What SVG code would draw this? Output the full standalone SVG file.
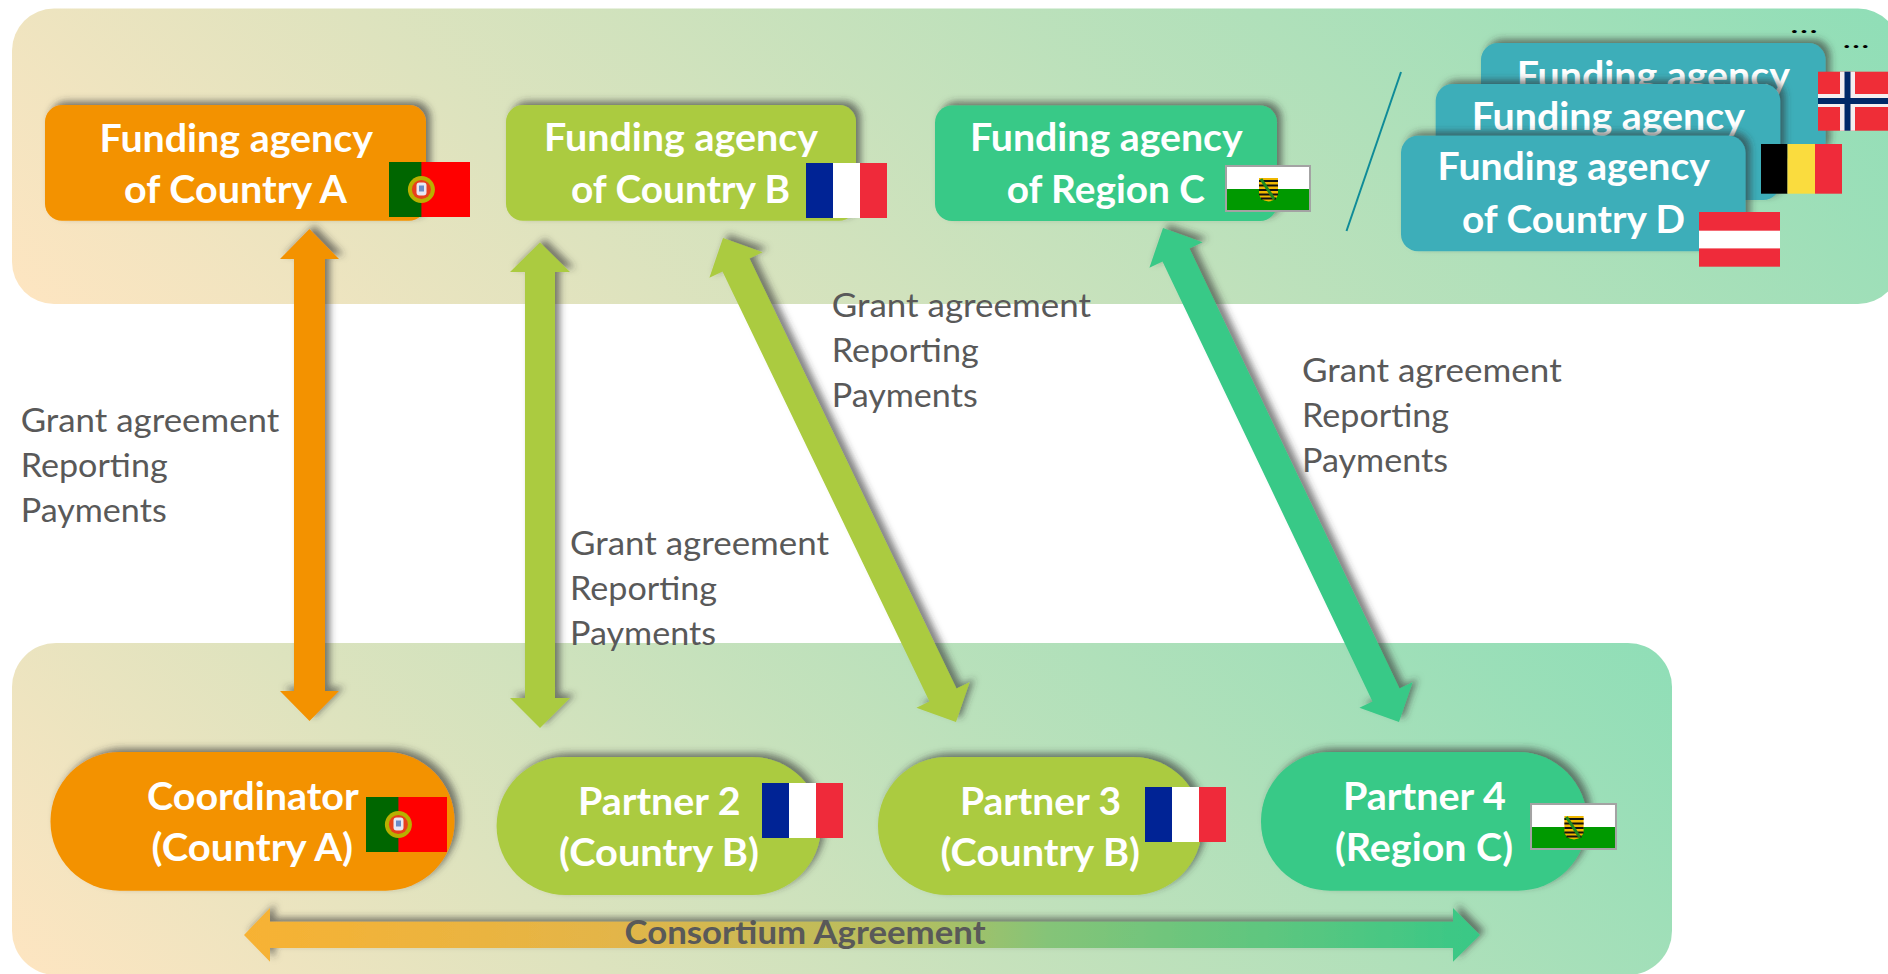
<svg xmlns="http://www.w3.org/2000/svg" xmlns:xlink="http://www.w3.org/1999/xlink" width="1888" height="974" viewBox="0 0 1888 974">
<style>
text{font-family:"Lato","Carlito","Liberation Sans",sans-serif}
.w{fill:#fff;font-weight:700;font-size:37.500px}
.l{fill:#595959;font-size:32.500px}
.c{fill:#595959;font-weight:700;font-size:32.500px}
.o{fill:#f39200}.g{fill:#abcb3f}.m{fill:#38c987}.t{fill:#3caeb9}
.s{filter:url(#sh)}
</style>
<defs>
<filter id="sh" x="-20%" y="-20%" width="140%" height="140%"><feDropShadow dx="5" dy="-4" stdDeviation="3.500" flood-color="#333" flood-opacity=".6"/></filter>
<linearGradient id="pt" gradientUnits="userSpaceOnUse" x1="12" y1="304" x2="1103" y2="-789"><stop offset="0" stop-color="#fee5c1"/><stop offset="1" stop-color="#8fdeb7"/></linearGradient>
<linearGradient id="pb" gradientUnits="userSpaceOnUse" x1="12" y1="975" x2="1007" y2="-21"><stop offset="0" stop-color="#fee5c1"/><stop offset="1" stop-color="#8fdeb7"/></linearGradient>
<linearGradient id="ca" gradientUnits="userSpaceOnUse" x1="244" y1="0" x2="1480" y2="0"><stop offset="0" stop-color="#f7b233"/><stop offset=".3" stop-color="#e3b548"/><stop offset=".55" stop-color="#b0bf62"/><stop offset=".65" stop-color="#85c478"/><stop offset="1" stop-color="#38c886"/></linearGradient>
<symbol id="fPt" viewBox="0 0 81 55" preserveAspectRatio="none"><rect width="81" height="55" fill="#f00"/><rect width="32.400" height="55" fill="#060"/><circle cx="32.400" cy="27.500" r="13.500" fill="#b8b000"/><circle cx="32.400" cy="27.500" r="9.500" fill="#e8401c"/><rect x="27.500" y="20.500" width="10" height="13" rx="3" fill="#e8e8f4"/><rect x="30" y="23.500" width="5" height="6" fill="#6a8cc8"/></symbol>
<symbol id="fFr" viewBox="0 0 81 55" preserveAspectRatio="none"><rect width="81" height="55" fill="#ef2a3a"/><rect width="54" height="55" fill="#fff"/><rect width="27" height="55" fill="#002395"/></symbol>
<symbol id="fSx" viewBox="0 0 86 47" preserveAspectRatio="none"><rect width="86" height="47" fill="#a3a3a3"/><rect x="2" y="2" width="82" height="22" fill="#fff"/><rect x="2" y="24" width="82" height="21" fill="#009900"/><path d="M34 13h19v15q0 7-9.500 8.500q-9.500-1.500-9.500-8.500z" fill="#f0b800"/><path d="M34 16h19M34 20.500h19M34 25h19M34 29.500h19M36 33.500h15" stroke="#111" stroke-width="2" fill="none"/><path d="M36 14l13 20" stroke="#1e8a1e" stroke-width="3" fill="none"/></symbol>
</defs>

<g id="panels">
<rect id="panel-funders" x="12" y="8.500" width="1888" height="295.500" rx="42" fill="url(#pt)"/>
<rect id="panel-consortium" x="12" y="643" width="1660" height="332" rx="44" fill="url(#pb)"/>
</g>

<g id="connectors">
<polygon class="o s" points="309.500,229 339,259 325,259 325,691 339,691 309.500,721 280,691 294,691 294,259 280,259"/>
<polygon class="g s" points="540,242.500 570,272 555,272 555,698 570,698 540,728 510,698 525,698 525,272 510,272"/>
<polygon class="g s" points="723,238 762.600,252.200 749.500,258.500 956.500,688.500 969.600,682.200 956,722 916.400,707.800 929.500,701.500 722.500,271.500 709.400,277.800"/>
<polygon class="m s" points="1163,228 1202.600,242.300 1189.500,248.500 1399.500,688.500 1412.600,682.300 1399,722 1359.400,707.700 1372.500,701.500 1162.500,261.500 1149.400,267.700"/>
<polygon class="s" fill="url(#ca)" points="244,935 270,908 270,921.700 1453,921.700 1453,908 1480,935 1453,961.700 1453,948 270,948 270,961.700"/>
<line x1="1401" y1="72" x2="1346.500" y2="231" stroke="#0f8b98" stroke-width="2"/>
</g>

<g id="labels">
<g id="label-a"><text class="l" x="20.700" y="431.700" textLength="258.600" lengthAdjust="spacingAndGlyphs">Grant agreement</text><text class="l" x="20.700" y="476.700" textLength="147" lengthAdjust="spacingAndGlyphs">Reporting</text><text class="l" x="20.700" y="521.700" textLength="146" lengthAdjust="spacingAndGlyphs">Payments</text></g>
<g id="label-b"><text class="l" x="570" y="555" textLength="259" lengthAdjust="spacingAndGlyphs">Grant agreement</text><text class="l" x="570" y="600" textLength="147" lengthAdjust="spacingAndGlyphs">Reporting</text><text class="l" x="570" y="645" textLength="146" lengthAdjust="spacingAndGlyphs">Payments</text></g>
<g id="label-b2"><text class="l" x="831.700" y="316.700" textLength="259.300" lengthAdjust="spacingAndGlyphs">Grant agreement</text><text class="l" x="831.700" y="361.700" textLength="147" lengthAdjust="spacingAndGlyphs">Reporting</text><text class="l" x="831.700" y="406.700" textLength="146" lengthAdjust="spacingAndGlyphs">Payments</text></g>
<g id="label-c"><text class="l" x="1302" y="381.700" textLength="259.700" lengthAdjust="spacingAndGlyphs">Grant agreement</text><text class="l" x="1302" y="426.700" textLength="147" lengthAdjust="spacingAndGlyphs">Reporting</text><text class="l" x="1302" y="471.700" textLength="146" lengthAdjust="spacingAndGlyphs">Payments</text></g>
<text id="label-consortium" class="c" x="624.600" y="944" textLength="361" lengthAdjust="spacingAndGlyphs">Consortium Agreement</text>
<text id="more-1" x="1790" y="32.600" font-size="24" font-family="Liberation Sans" fill="#000" textLength="28" lengthAdjust="spacingAndGlyphs">…</text>
<text id="more-2" x="1842.500" y="47.600" font-size="24" font-family="Liberation Sans" fill="#000" textLength="27" lengthAdjust="spacingAndGlyphs">…</text>
</g>

<g id="funder-a">
<rect class="o s" x="45" y="105" width="381" height="115.700" rx="17"/>
<text class="w" x="99.500" y="151.700" textLength="273.500" lengthAdjust="spacingAndGlyphs">Funding agency</text>
<text class="w" x="124" y="202.500" textLength="223" lengthAdjust="spacingAndGlyphs">of Country A</text>
<use href="#fPt" x="389" y="162" width="81" height="55"/>
</g>
<g id="funder-b">
<rect class="g s" x="506" y="105" width="350" height="115.700" rx="17"/>
<text class="w" x="544" y="151.300" textLength="274" lengthAdjust="spacingAndGlyphs">Funding agency</text>
<text class="w" x="571" y="202.700" textLength="219" lengthAdjust="spacingAndGlyphs">of Country B</text>
<use href="#fFr" x="806" y="163" width="81" height="55"/>
</g>
<g id="funder-c">
<rect class="m s" x="935" y="105.500" width="342" height="115.500" rx="17"/>
<text class="w" x="970" y="151.300" textLength="272.700" lengthAdjust="spacingAndGlyphs">Funding agency</text>
<text class="w" x="1006.700" y="203" textLength="198.300" lengthAdjust="spacingAndGlyphs">of Region C</text>
<use href="#fSx" x="1225" y="165" width="86" height="47"/>
</g>
<g id="funder-no">
<rect class="t s" x="1481" y="43" width="344.500" height="115.500" rx="17"/>
<text class="w" x="1516.700" y="89" textLength="273.300" lengthAdjust="spacingAndGlyphs">Funding agency</text>
<rect x="1818" y="71.700" width="70" height="59" fill="#ef2d37"/>
<rect x="1840" y="71.700" width="15" height="59" fill="#f4eef0"/>
<rect x="1818" y="94" width="70" height="13" fill="#f4eef0"/>
<rect x="1844.500" y="71.700" width="6" height="59" fill="#002868"/>
<rect x="1818" y="98" width="70" height="6" fill="#002868"/>
</g>
<g id="funder-be">
<rect class="t s" x="1435.700" y="84" width="344.500" height="116" rx="17"/>
<text class="w" x="1471.700" y="129.700" textLength="273.300" lengthAdjust="spacingAndGlyphs">Funding agency</text>
<rect x="1761" y="144" width="26.500" height="49.700" fill="#000"/>
<rect x="1787.500" y="144" width="27.500" height="49.700" fill="#fadc3e"/>
<rect x="1815" y="144" width="27" height="49.700" fill="#ef2b3a"/>
</g>
<g id="funder-d">
<rect class="t s" x="1401" y="135.700" width="344.500" height="115.500" rx="17"/>
<text class="w" x="1437.600" y="180" textLength="272.400" lengthAdjust="spacingAndGlyphs">Funding agency</text>
<text class="w" x="1462" y="232.700" textLength="223" lengthAdjust="spacingAndGlyphs">of Country D</text>
<rect x="1699" y="212" width="81" height="54.700" fill="#ef2b3a"/>
<rect x="1699" y="230.700" width="81" height="17.700" fill="#fff"/>
</g>

<g id="coordinator">
<rect class="o s" x="50.500" y="752" width="404" height="138.700" rx="69"/>
<text class="w" x="147" y="810" textLength="211.800" lengthAdjust="spacingAndGlyphs">Coordinator</text>
<text class="w" x="151.500" y="861" textLength="201.500" lengthAdjust="spacingAndGlyphs">(Country A)</text>
<use href="#fPt" x="366" y="797" width="81" height="55"/>
</g>
<g id="partner-2">
<rect class="g s" x="496.600" y="757" width="324.400" height="138" rx="69"/>
<text class="w" x="578" y="814.700" textLength="162.500" lengthAdjust="spacingAndGlyphs">Partner 2</text>
<text class="w" x="559" y="865.700" textLength="200" lengthAdjust="spacingAndGlyphs">(Country B)</text>
<use href="#fFr" x="762" y="783" width="81" height="55"/>
</g>
<g id="partner-3">
<rect class="g s" x="878" y="757" width="324" height="138" rx="69"/>
<text class="w" x="960" y="814.700" textLength="161" lengthAdjust="spacingAndGlyphs">Partner 3</text>
<text class="w" x="940.500" y="865.700" textLength="199.500" lengthAdjust="spacingAndGlyphs">(Country B)</text>
<use href="#fFr" x="1145" y="787" width="81" height="55"/>
</g>
<g id="partner-4">
<rect class="m s" x="1261" y="752" width="326" height="138.700" rx="69"/>
<text class="w" x="1343" y="810" textLength="163" lengthAdjust="spacingAndGlyphs">Partner 4</text>
<text class="w" x="1335" y="861" textLength="178" lengthAdjust="spacingAndGlyphs">(Region C)</text>
<use href="#fSx" x="1530" y="803" width="87" height="47"/>
</g>
</svg>
